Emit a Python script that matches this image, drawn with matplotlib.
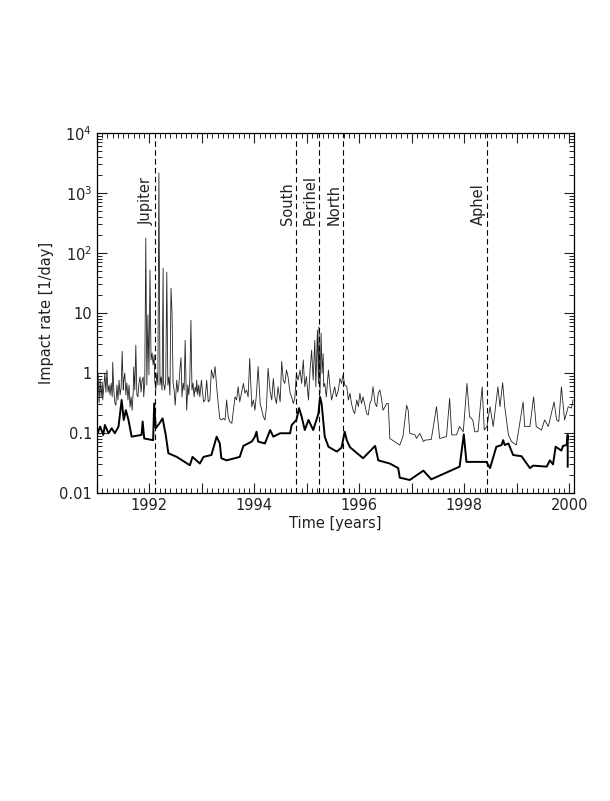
import numpy as np
import matplotlib.pyplot as plt
from matplotlib.ticker import MultipleLocator, LogLocator, FuncFormatter, NullFormatter

# thin line: high resolution impact rate [1/day]
thin_year = [
    1991.00, 1991.02, 1991.04, 1991.06, 1991.08, 1991.10, 1991.11, 1991.13, 1991.15, 1991.17,
    1991.19, 1991.21, 1991.23, 1991.25, 1991.27, 1991.29, 1991.30, 1991.32, 1991.34, 1991.36,
    1991.38, 1991.40, 1991.42, 1991.44, 1991.46, 1991.48, 1991.50, 1991.51, 1991.53, 1991.55,
    1991.57, 1991.59, 1991.61, 1991.63, 1991.65, 1991.67, 1991.69, 1991.70, 1991.72, 1991.74,
    1991.76, 1991.78, 1991.80, 1991.82, 1991.84, 1991.86, 1991.88, 1991.89, 1991.91, 1991.93,
    1991.95, 1991.97, 1991.99, 1992.01, 1992.03, 1992.05, 1992.07, 1992.09, 1992.10, 1992.12,
    1992.14, 1992.16, 1992.18, 1992.20, 1992.22, 1992.24, 1992.26, 1992.27, 1992.29, 1992.31,
    1992.33, 1992.35, 1992.37, 1992.39, 1992.41, 1992.43, 1992.45, 1992.47, 1992.49, 1992.50,
    1992.52, 1992.54, 1992.56, 1992.58, 1992.60, 1992.62, 1992.64, 1992.66, 1992.68, 1992.70,
    1992.71, 1992.73, 1992.75, 1992.77, 1992.79, 1992.81, 1992.83, 1992.85, 1992.87, 1992.89,
    1992.90, 1992.92, 1992.94,
    1992.96, 1992.99, 1993.03, 1993.06, 1993.09, 1993.12, 1993.15, 1993.18, 1993.22, 1993.25,
    1993.28, 1993.31, 1993.34, 1993.37, 1993.41, 1993.44, 1993.47, 1993.50, 1993.53, 1993.57,
    1993.60, 1993.63, 1993.66, 1993.69, 1993.72, 1993.76, 1993.79, 1993.82, 1993.85, 1993.88,
    1993.91, 1993.95, 1993.98, 1994.01, 1994.04, 1994.07, 1994.11, 1994.14, 1994.17, 1994.20,
    1994.23, 1994.26, 1994.30, 1994.33, 1994.36, 1994.39, 1994.42, 1994.45, 1994.49, 1994.52,
    1994.55, 1994.58, 1994.61, 1994.64, 1994.68, 1994.71, 1994.74, 1994.77, 1994.80, 1994.83,
    1994.87, 1994.90, 1994.93, 1994.96, 1994.99, 1995.03, 1995.06, 1995.09, 1995.12, 1995.15,
    1995.17, 1995.20, 1995.22, 1995.23, 1995.25, 1995.27, 1995.29, 1995.31, 1995.32, 1995.34,
    1995.37, 1995.41, 1995.44, 1995.47, 1995.50, 1995.53, 1995.56, 1995.60, 1995.63, 1995.66,
    1995.69, 1995.72, 1995.76, 1995.79, 1995.82, 1995.85, 1995.88, 1995.91, 1995.95, 1995.98,
    1996.01, 1996.04, 1996.07, 1996.11, 1996.14, 1996.17, 1996.20, 1996.23, 1996.26, 1996.30,
    1996.33, 1996.36, 1996.39, 1996.42, 1996.45, 1996.49, 1996.52, 1996.55, 1996.58,
    1996.77, 1996.83, 1996.90, 1996.93, 1996.96, 1997.06, 1997.09, 1997.15, 1997.18, 1997.22,
    1997.25, 1997.37, 1997.47, 1997.53, 1997.66, 1997.72, 1997.76, 1997.85, 1997.91, 1997.98,
    1998.05, 1998.10, 1998.16, 1998.20, 1998.26, 1998.34, 1998.38, 1998.43, 1998.49, 1998.55,
    1998.64, 1998.68, 1998.73, 1998.77, 1998.84, 1998.90, 1998.99, 1999.12, 1999.15, 1999.25,
    1999.32, 1999.37, 1999.47, 1999.53, 1999.60, 1999.71, 1999.76, 1999.80, 1999.85, 1999.91,
    1999.98, 2000.04, 2000.07,
]
thin_rate = [
    0.43, 1.0, 0.32, 0.76, 0.40, 0.68, 0.355, 0.58, 1.0, 0.48,
    1.12, 0.48, 0.63, 0.43, 0.68, 0.40, 1.5, 0.52, 0.32, 0.29,
    0.63, 0.355, 0.76, 0.43, 0.58, 2.3, 0.52, 0.76, 1.0, 0.43,
    0.68, 0.355, 0.63, 0.27, 0.40, 0.24, 0.48, 1.26, 0.52, 2.9,
    0.43, 0.40, 0.68, 0.86, 0.48, 0.76, 0.86, 0.40, 0.68, 178,
    0.63, 9.3, 0.93, 52, 1.65, 2.15, 1.36, 2.0, 0.76, 0.52,
    1.0, 0.63, 2150, 0.63, 0.86, 0.52, 56, 0.68, 0.52, 0.76,
    48, 0.63, 0.86, 0.43, 26, 10, 0.68, 0.52, 0.29, 0.40,
    0.76, 0.48, 0.63, 1.12, 1.8, 0.40, 0.68, 0.52, 3.5, 0.48,
    0.24, 0.63, 0.43, 0.86, 7.6, 0.52, 0.68, 0.40, 0.58, 0.48,
    0.76, 0.43, 0.63,
    0.40, 0.76, 0.33, 0.355, 0.76, 0.33, 0.355, 1.12, 0.81, 1.28,
    0.59, 0.31, 0.175, 0.165, 0.175, 0.165, 0.355, 0.187, 0.155, 0.145,
    0.24, 0.40, 0.355, 0.59, 0.33, 0.49, 0.67, 0.46, 0.52, 0.40,
    1.75, 0.275, 0.355, 0.24, 0.46, 1.28, 0.31, 0.24, 0.187, 0.165,
    0.275, 1.2, 0.49, 0.355, 0.81, 0.40, 0.31, 0.59, 0.33, 1.55,
    0.76, 0.67, 1.12, 0.87, 0.46, 0.40, 0.31, 0.38, 0.99, 0.76,
    1.12, 0.67, 1.65, 0.59, 0.87, 0.355, 1.12, 2.4, 0.76, 3.5,
    0.59, 5.2, 0.67, 5.9, 0.46, 4.6, 0.99, 2.1, 0.59, 0.67,
    0.40, 1.12, 0.59, 0.355, 0.46, 0.59, 0.40, 0.52, 0.81, 0.67,
    0.93, 0.63, 0.59, 0.355, 0.46, 0.31, 0.24, 0.21, 0.355, 0.275,
    0.46, 0.31, 0.40, 0.275, 0.21, 0.20, 0.31, 0.355, 0.59, 0.31,
    0.275, 0.46, 0.52, 0.38, 0.24, 0.275, 0.31, 0.31, 0.081,
    0.063, 0.087, 0.29, 0.24, 0.099, 0.093, 0.081, 0.099, 0.087, 0.072,
    0.076, 0.078, 0.275, 0.081, 0.087, 0.38, 0.093, 0.093, 0.128, 0.105,
    0.67, 0.187, 0.165, 0.105, 0.105, 0.59, 0.112, 0.128, 0.275, 0.128,
    0.59, 0.275, 0.69, 0.275, 0.093, 0.072, 0.063, 0.33, 0.128, 0.128,
    0.40, 0.128, 0.112, 0.165, 0.128, 0.33, 0.165, 0.155, 0.59, 0.165,
    0.275, 0.26, 0.355,
]

# thick line: smoothed impact rate [1/day]
thick_year = [
    1991.00, 1991.06, 1991.12, 1991.15, 1991.22, 1991.28, 1991.34, 1991.41, 1991.47, 1991.51,
    1991.55, 1991.60, 1991.66, 1991.85, 1991.87, 1991.90, 1992.07, 1992.09, 1992.12, 1992.19,
    1992.25, 1992.31, 1992.36, 1992.52, 1992.77, 1992.82, 1992.96,
    1993.03, 1993.18, 1993.28, 1993.34, 1993.37, 1993.47, 1993.72, 1993.79, 1993.95, 1994.01,
    1994.04, 1994.07, 1994.20, 1994.30, 1994.36, 1994.49, 1994.68, 1994.71, 1994.80, 1994.85,
    1994.90, 1994.96, 1995.03, 1995.12, 1995.22, 1995.25, 1995.28, 1995.34, 1995.41, 1995.57,
    1995.66, 1995.72, 1995.76, 1995.82, 1996.07, 1996.30, 1996.36, 1996.58,
    1996.74, 1996.77, 1996.96, 1997.22, 1997.37, 1997.91, 1997.99, 1998.04, 1998.42, 1998.49,
    1998.61, 1998.71, 1998.74, 1998.77, 1998.84, 1998.93, 1999.09, 1999.25, 1999.31, 1999.57,
    1999.63, 1999.69, 1999.74, 1999.85, 1999.88, 1999.95, 1999.97, 1999.97,
]
thick_rate = [
    0.093, 0.128, 0.093, 0.136, 0.099, 0.12, 0.099, 0.128, 0.355, 0.165,
    0.24, 0.165, 0.087, 0.093, 0.155, 0.081, 0.076, 0.31, 0.12, 0.145,
    0.175, 0.093, 0.046, 0.040, 0.029, 0.040, 0.031,
    0.040, 0.043, 0.087, 0.067, 0.038, 0.035, 0.040, 0.061, 0.072, 0.087,
    0.105, 0.072, 0.067, 0.112, 0.087, 0.099, 0.099, 0.136, 0.165, 0.26,
    0.187, 0.112, 0.165, 0.112, 0.21, 0.40, 0.31, 0.087, 0.059, 0.049,
    0.057, 0.105, 0.076, 0.058, 0.038, 0.061, 0.035, 0.031,
    0.026, 0.018, 0.0165, 0.0236, 0.0169, 0.0275, 0.095, 0.033, 0.033, 0.026,
    0.059, 0.063, 0.076, 0.063, 0.067, 0.043, 0.041, 0.026, 0.0286, 0.0275,
    0.035, 0.030, 0.059, 0.051, 0.061, 0.063, 0.093, 0.0275,
]

events = ["Jupiter", "South", "Perihel", "North", "Aphel"]
event_year = [1992.10, 1994.80, 1995.23, 1995.69, 1998.43]

fig = plt.figure(figsize=(6.1, 8.01), dpi=100)
ax = fig.add_axes([0.159, 0.3845, 0.782, 0.4495])

ax.plot(thin_year, thin_rate, color="#222222", lw=0.6)
ax.plot(thick_year, thick_rate, color="black", lw=1.4)

for name, yr in zip(events, event_year):
    ax.axvline(yr, color="black", lw=0.8, ls=(0, (5, 3)))
    ax.text(yr - 0.02, 290, name, rotation=90, ha="right", va="bottom",
            fontsize=10.5, color="#222222")

ax.set_yscale("log")
ax.set_xlim(1991.0, 2000.09)
ax.set_ylim(0.01, 1e4)

ax.xaxis.set_major_locator(MultipleLocator(1))
ax.xaxis.set_minor_locator(MultipleLocator(0.1))
ax.xaxis.set_major_formatter(FuncFormatter(lambda v, p: f"{int(round(v))}" if int(round(v)) % 2 == 0 else ""))

ax.yaxis.set_major_locator(LogLocator(base=10, numticks=20))
ax.yaxis.set_minor_locator(LogLocator(base=10, subs=np.arange(2, 10), numticks=20))
ax.yaxis.set_minor_formatter(NullFormatter())
ylabels = {0.01: "0.01", 0.1: "0.1", 1: "1", 10: "10", 100: r"$10^2$", 1000: r"$10^3$", 10000: r"$10^4$"}
ax.yaxis.set_major_formatter(FuncFormatter(lambda v, p: ylabels.get(round(v, 2) if v < 1 else round(v), "")))

ax.tick_params(which="both", direction="in", top=True, right=True, labelsize=10.5, colors="#222222")
ax.tick_params(which="major", length=7, width=0.8)
ax.tick_params(which="minor", length=3.5, width=0.7)
for s in ax.spines.values():
    s.set_linewidth(0.9)

ax.set_xlabel("Time [years]", fontsize=10.5, color="#222222", labelpad=2)
ax.set_ylabel("Impact rate [1/day]", fontsize=10.5, color="#222222", labelpad=4)

fig.savefig("out.png", dpi=100)
